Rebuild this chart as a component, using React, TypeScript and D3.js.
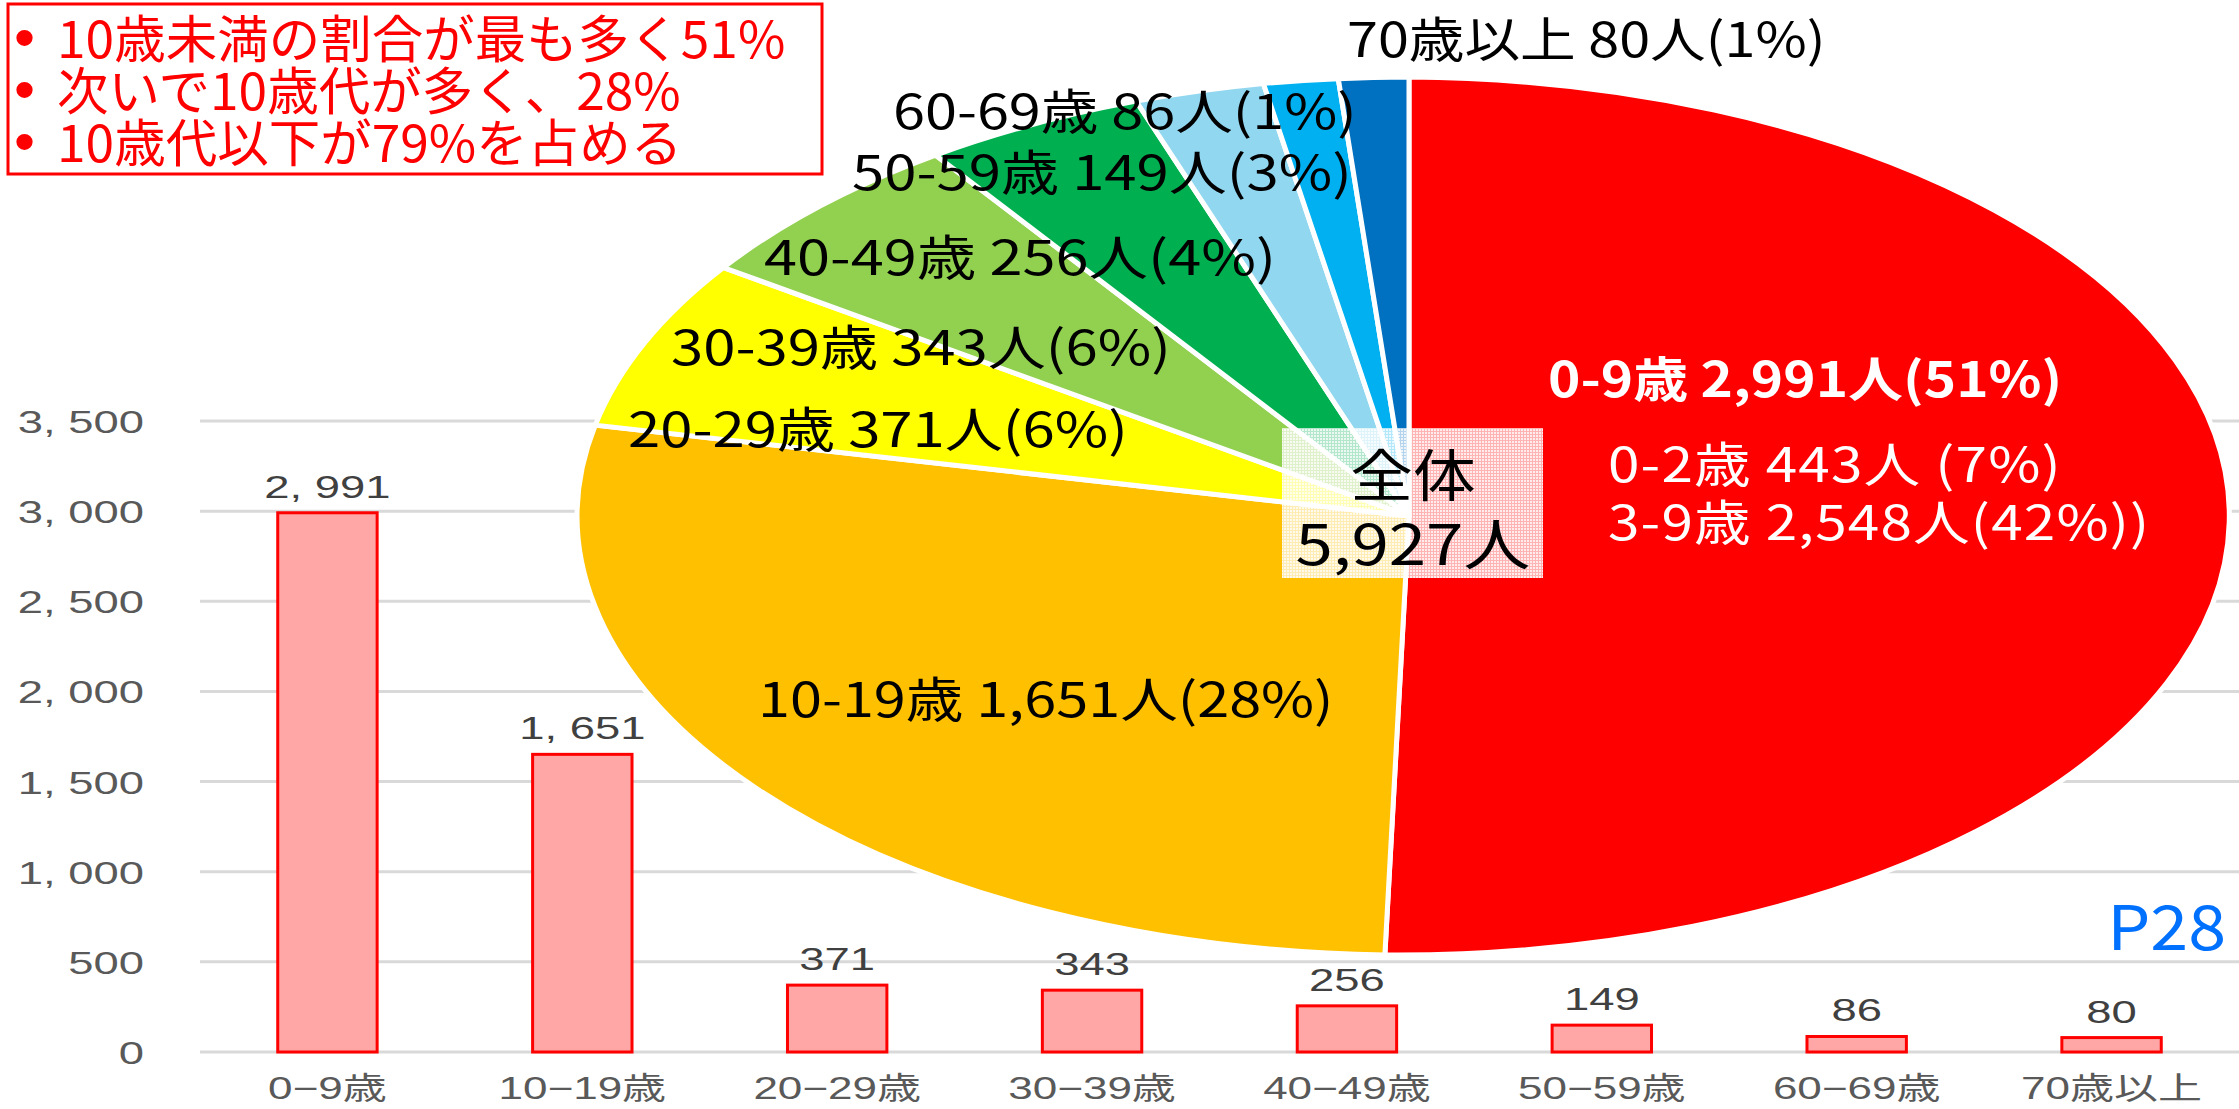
import React from 'react';
import * as d3 from 'd3';

// age groups and counts (bar chart + pie)
const ageGroups = ['0−9歳', '10−19歳', '20−29歳', '30−39歳', '40−49歳', '50−59歳', '60−69歳', '70歳以上'];
const counts = [2991, 1651, 371, 343, 256, 149, 86, 80];
const yTicks = [0, 500, 1000, 1500, 2000, 2500, 3000, 3500];

const pieLabels = [
  '0-9歳 2,991人(51%)',
  '10-19歳 1,651人(28%)',
  '20-29歳 371人(6%)',
  '30-39歳 343人(6%)',
  '40-49歳 256人(4%)',
  '50-59歳 149人(3%)',
  '60-69歳 86人(1%)',
  '70歳以上 80人(1%)',
];
const subLabels = ['0-2歳 443人 (7%)', '3-9歳 2,548人(42%))'];
const sliceColors = ['#ff0000', '#ffc000', '#ffff00', '#92d050', '#00b050', '#92d7f0', '#00b0f0', '#0070c0'];
const totalLines = ['全体', '5,927人'];
const noteLines = ['10歳未満の割合が最も多く51%', '次いで10歳代が多く、28%', '10歳代以下が79%を占める'];

// layout
const W = 2239;
const H = 1109;
const pieC = { x: 1409, y: 516, rx: 832, ry: 439 };
const pieLabelAt = [[1548, 397], [758, 717], [628, 447], [671, 365], [764, 275], [852, 190], [893, 129], [1347, 57]];
const pieLabelSx = [1.145, 1.2, 1.21, 1.21, 1.24, 1.21, 1.2, 1.16];

const barFont = "'Liberation Sans', 'Noto Sans CJK JP', sans-serif";
const jpFont = "'Noto Sans CJK JP', sans-serif";

const fmt = (v: number) => d3.format(',')(v).replace(',', ', ');

const Stretch = ({ x, y, sx, children, ...rest }: any) => (
  <text transform={`translate(${x},${y}) scale(${sx},1)`} {...rest}>{children}</text>
);

export default function App() {
  const y = d3.scaleLinear().domain([0, 3500]).range([1052, 421]);
  const x = d3.scaleBand<string>().domain(ageGroups).range([200, W]).paddingInner(0.61).paddingOuter(0.305);

  const slices = d3.pie<number>().sort(null).value(d => d)(counts);
  const arc = d3.arc<d3.PieArcDatum<number>>().innerRadius(0).outerRadius(1);

  const noteSx = 1.01;

  return (
    <svg width={W} height={H} style={{ position: 'absolute', left: 0, top: 0, display: 'block', background: '#fff' }}>
      <defs>
        <pattern id="mesh" width="3" height="3" patternUnits="userSpaceOnUse">
          <rect width="3" height="3" fill="#fff" fillOpacity="0.7" />
          <rect width="2" height="2" fill="#fff" fillOpacity="0.75" />
        </pattern>
      </defs>

      {/* bar chart */}
      {yTicks.map(t => (
        <line key={t} x1={200} x2={W} y1={y(t)} y2={y(t)} stroke="#d9d9d9" strokeWidth={3} />
      ))}
      {yTicks.map(t => (
        <Stretch key={t} x={144} y={y(t) + 12} sx={1.42} textAnchor="end" fontFamily={barFont} fontSize={32} fill="#595959">
          {fmt(t)}
        </Stretch>
      ))}
      {counts.map((v, i) => (
        <rect key={i} x={x(ageGroups[i])} y={y(v)} width={x.bandwidth()} height={y(0) - y(v)}
          fill="#ffa7a7" stroke="#ff0000" strokeWidth={3} />
      ))}
      {counts.map((v, i) => (
        <Stretch key={i} x={x(ageGroups[i])! + x.bandwidth() / 2} y={y(v) - 15} sx={1.42} textAnchor="middle"
          fontFamily={barFont} fontSize={32} fill="#404040">
          {fmt(v)}
        </Stretch>
      ))}
      {ageGroups.map(g => (
        <Stretch key={g} x={x(g)! + x.bandwidth() / 2} y={1099} sx={1.42} textAnchor="middle"
          fontFamily={barFont} fontSize={31} fill="#595959">
          {g}
        </Stretch>
      ))}

      {/* pie drawn as stretched ellipse */}
      <g transform={`translate(${pieC.x},${pieC.y}) scale(${pieC.rx},${pieC.ry})`}>
        {slices.map((s, i) => (
          <path key={i} d={arc(s)!} fill={sliceColors[i]} stroke="#fff" strokeWidth={5}
            vectorEffect="non-scaling-stroke" />
        ))}
      </g>
      {pieLabels.map((l, i) => (
        <Stretch key={l} x={pieLabelAt[i][0]} y={pieLabelAt[i][1]} sx={pieLabelSx[i]} fontFamily={jpFont} fontSize={48}
          fill={i === 0 ? '#fff' : '#000'} fontWeight={i === 0 ? 700 : 400}>
          {l}
        </Stretch>
      ))}
      {subLabels.map((l, i) => (
        <Stretch key={l} x={1608} y={482 + i * 58} sx={1.18} fontFamily={jpFont} fontSize={48} fill="#fff" letterSpacing={1}>
          {l}
        </Stretch>
      ))}

      {/* total box */}
      <rect x={1282} y={428} width={261} height={150} fill="url(#mesh)" />
      {totalLines.map((l, i) => (
        <Stretch key={l} x={1413} y={496 + i * 69} sx={i === 0 ? 1.12 : 1.2} textAnchor="middle" fontFamily={jpFont}
          fontSize={56} fill="#000">
          {l}
        </Stretch>
      ))}

      {/* note box */}
      <rect x={8} y={4} width={814} height={170} fill="#fff" stroke="#ff0000" strokeWidth={3} />
      {noteLines.map((l, i) => (
        <g key={l}>
          <text x={14} y={58 + i * 52} fontFamily="'Liberation Sans', sans-serif" fontSize={60} fill="#ff0000">•</text>
          <Stretch x={57} y={58 + i * 52} sx={noteSx} fontFamily={jpFont} fontSize={51} fill="#ff0000">{l}</Stretch>
        </g>
      ))}

      <Stretch x={2226} y={950} sx={1.1} textAnchor="end" fontFamily={jpFont} fontSize={62} fill="#0070ff">P28</Stretch>
    </svg>
  );
}
